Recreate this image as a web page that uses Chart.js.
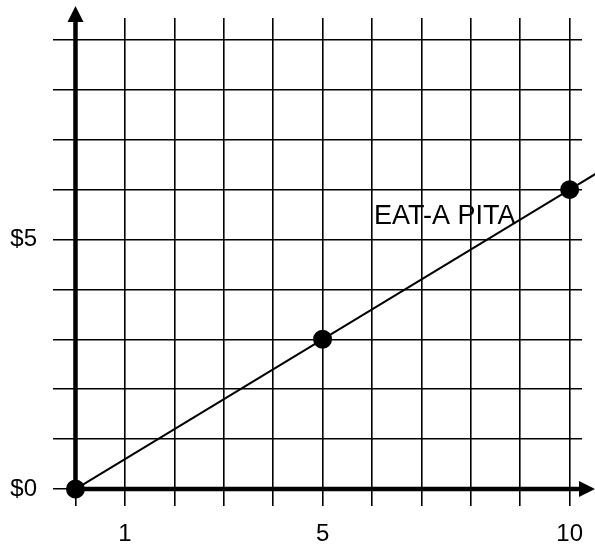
<!DOCTYPE html>
<html>
<head>
<meta charset="utf-8">
<script src="https://cdn.jsdelivr.net/npm/chart.js@4.4.0/dist/chart.umd.min.js"></script>
<style>
  html, body { margin: 0; padding: 0; background: #fff; }
  #wrap { width: 595px; height: 546px; position: relative; }
</style>
</head>
<body>
<div id="wrap"><canvas id="priceChart"></canvas></div>
<script>
// data
const quantities = [0, 5, 10];
const prices = [0, 3, 6];
const xTickValues = [0, 1, 2, 3, 4, 5, 6, 7, 8, 9, 10];
const yTickValues = [0, 1, 2, 3, 4, 5, 6, 7, 8, 9];
const xTickLabels = { 1: '1', 5: '5', 10: '10' };
const yTickLabels = { 0: '$0', 5: '$5' };
const lineName = 'EAT-A PITA';

const FONT = '"Liberation Sans", Arial, sans-serif';

// thick axes with arrow heads
const axesPlugin = {
    id: 'axes',
    beforeDatasetsDraw(chart) {
        const ctx = chart.ctx;
        const x0 = chart.scales.x.getPixelForValue(0);
        const y0 = chart.scales.y.getPixelForValue(0);
        const topTip = chart.chartArea.top - 12;
        const rightTip = chart.width;
        ctx.save();
        ctx.strokeStyle = '#000';
        ctx.fillStyle = '#000';
        ctx.lineWidth = 4.5;
        ctx.beginPath();
        ctx.moveTo(x0, y0);
        ctx.lineTo(x0, topTip + 14);
        ctx.moveTo(x0, y0);
        ctx.lineTo(rightTip - 14, y0);
        ctx.stroke();
        ctx.beginPath();
        ctx.moveTo(x0, topTip);
        ctx.lineTo(x0 - 8, topTip + 16);
        ctx.lineTo(x0 + 8, topTip + 16);
        ctx.closePath();
        ctx.fill();
        ctx.beginPath();
        ctx.moveTo(rightTip, y0);
        ctx.lineTo(rightTip - 16, y0 - 8);
        ctx.lineTo(rightTip - 16, y0 + 8);
        ctx.closePath();
        ctx.fill();
        ctx.restore();
    }
};

// the price line keeps going past the last point, and gets its name
const lineLabelPlugin = {
    id: 'lineLabel',
    afterDatasetsDraw(chart) {
        const ctx = chart.ctx;
        const pts = chart.getDatasetMeta(0).data;
        const a = pts[pts.length - 2], b = pts[pts.length - 1];
        const slope = (b.y - a.y) / (b.x - a.x);
        const endX = chart.width + 5;
        ctx.save();
        ctx.strokeStyle = '#000';
        ctx.lineWidth = 2;
        ctx.beginPath();
        ctx.moveTo(b.x, b.y);
        ctx.lineTo(endX, b.y + slope * (endX - b.x));
        ctx.stroke();
        ctx.fillStyle = '#000';
        ctx.font = '27px ' + FONT;
        ctx.textBaseline = 'alphabetic';
        ctx.fillText(lineName, chart.scales.x.getPixelForValue(6.04), chart.scales.y.getPixelForValue(5.31));
        ctx.restore();
    }
};

function initializePriceChart() {
    const ctx = document.getElementById('priceChart').getContext('2d');
    new Chart(ctx, {
        type: 'scatter',
        data: {
            datasets: [{
                label: lineName,
                data: quantities.map((q, i) => ({ x: q, y: prices[i] })),
                showLine: true,
                borderColor: '#000',
                borderWidth: 2,
                backgroundColor: '#000',
                pointRadius: 8.5,
                pointHoverRadius: 8.5,
                clip: false
            }]
        },
        options: {
            responsive: true,
            maintainAspectRatio: false,
            animation: false,
            layout: { padding: { top: 18, right: 13, left: 0, bottom: 0 } },
            scales: {
                x: {
                    type: 'linear',
                    min: -0.455,
                    max: 10.25,
                    afterBuildTicks: s => { s.ticks = xTickValues.map(v => ({ value: v })); },
                    afterFit: s => {
                        s.height = 40;
                        s.paddingLeft = 0;
                        s.paddingRight = 0;
                    },
                    grid: { color: '#000', lineWidth: 1.6, drawTicks: false },
                    border: { display: false },
                    ticks: {
                        autoSkip: false,
                        maxRotation: 0,
                        padding: 14,
                        color: '#000',
                        font: { family: FONT, size: 24 },
                        callback: v => xTickLabels[v] || ''
                    }
                },
                y: {
                    type: 'linear',
                    min: -0.34,
                    max: 9.44,
                    afterBuildTicks: s => { s.ticks = yTickValues.map(v => ({ value: v })); },
                    afterFit: s => {
                        s.width = 53;
                        s.paddingTop = 0;
                        s.paddingBottom = 0;
                    },
                    grid: { color: '#000', lineWidth: 1.6, drawTicks: false },
                    border: { display: false },
                    ticks: {
                        autoSkip: false,
                        padding: 16,
                        color: '#000',
                        font: { family: FONT, size: 24 },
                        callback: v => yTickLabels[v] || ''
                    }
                }
            },
            plugins: {
                legend: { display: false },
                tooltip: { enabled: false }
            }
        },
        plugins: [axesPlugin, lineLabelPlugin]
    });
}

document.addEventListener('DOMContentLoaded', () => {
    initializePriceChart();
});
</script>
</body>
</html>
